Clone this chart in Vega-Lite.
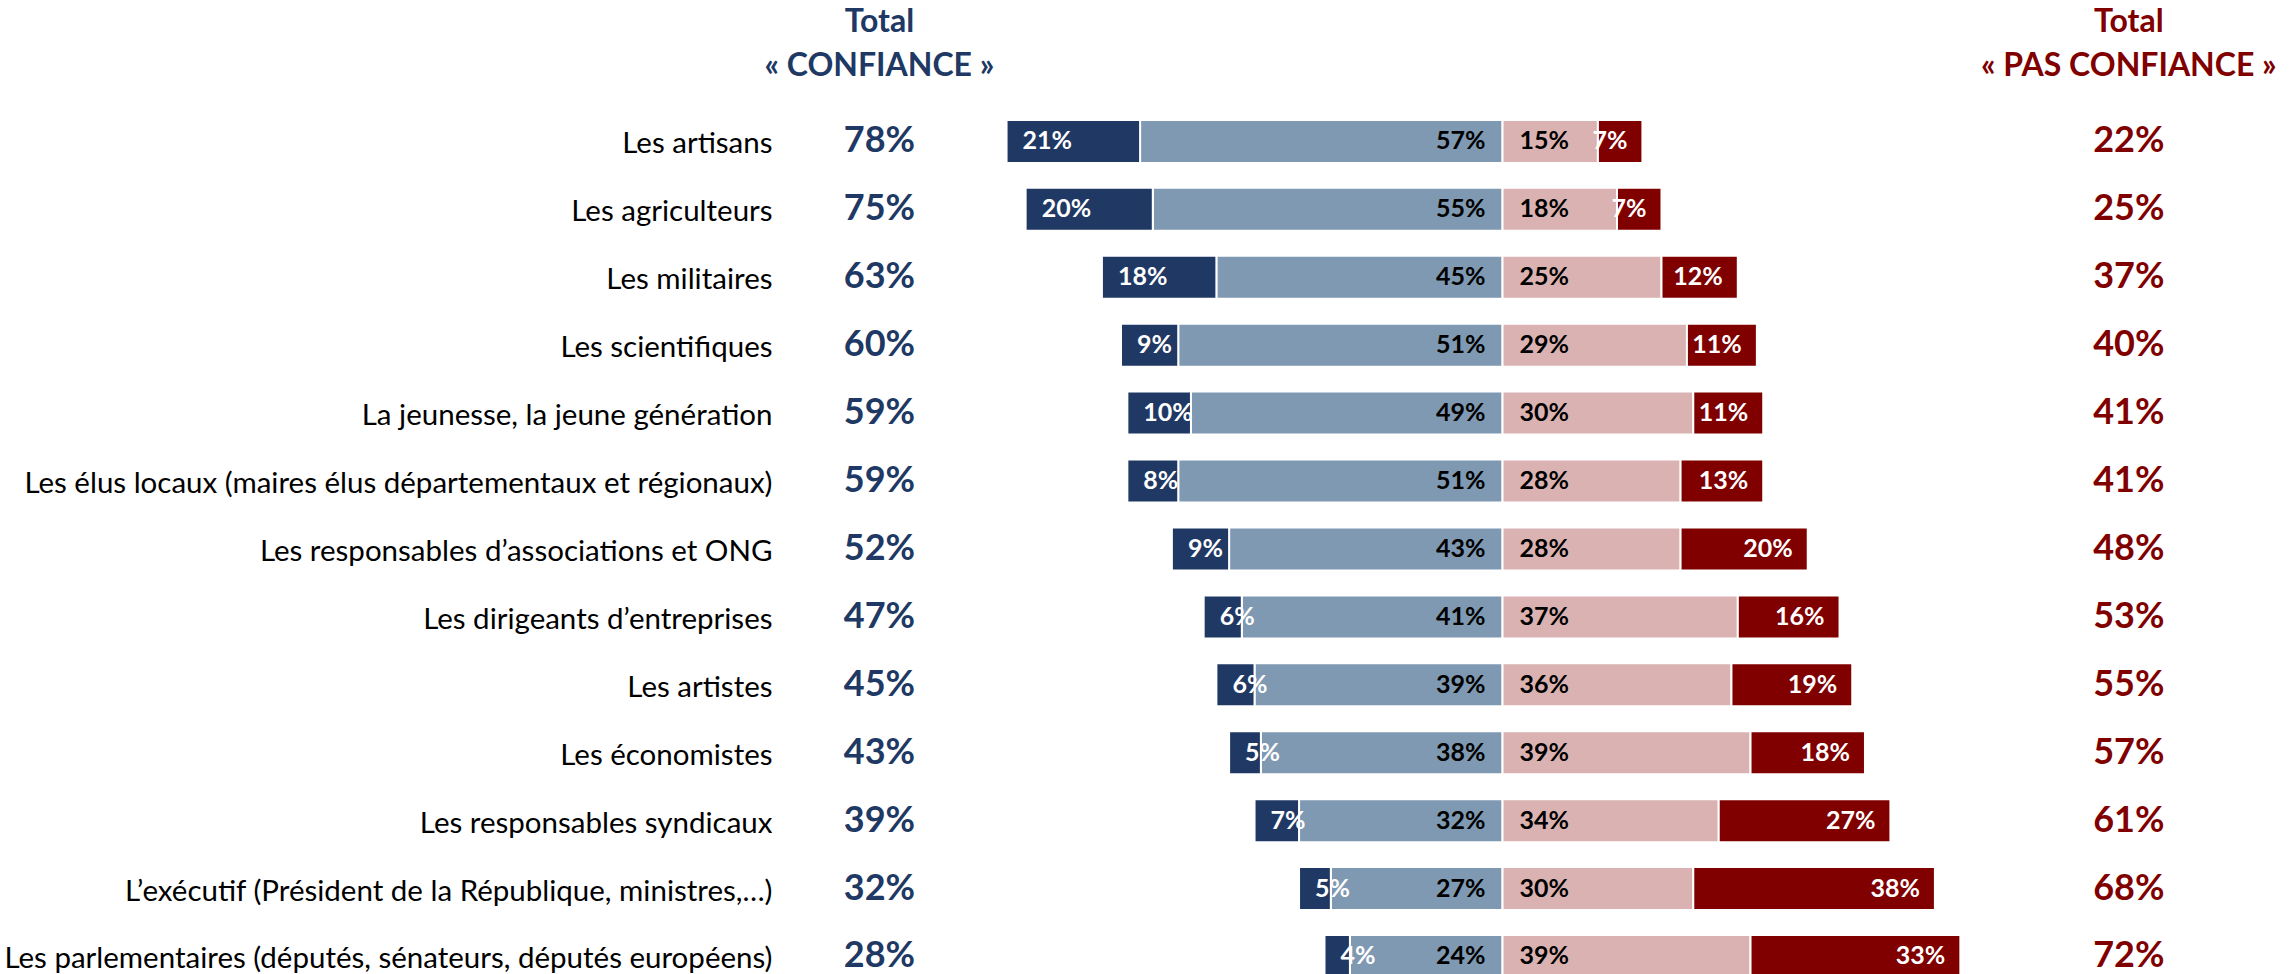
{
  "$schema": "https://vega.github.io/schema/vega-lite/v6.json",
  "width": 1507,
  "height": 1030,
  "autosize": {"type": "none"},
  "padding": {"left": 784, "top": 0, "right": 0, "bottom": -56},
  "background": "white",
  "config": {"view": {"stroke": null}, "font": "Lato"},
  "datasets": {
    "rows": [
      {"item": "Les artisans", "tout": 0.21, "plutot": 0.57, "plutotpas": 0.15, "pasdutout": 0.07, "totalC": 0.78, "totalP": 0.22},
      {"item": "Les agriculteurs", "tout": 0.20, "plutot": 0.55, "plutotpas": 0.18, "pasdutout": 0.07, "totalC": 0.75, "totalP": 0.25},
      {"item": "Les militaires", "tout": 0.18, "plutot": 0.45, "plutotpas": 0.25, "pasdutout": 0.12, "totalC": 0.63, "totalP": 0.37},
      {"item": "Les scientifiques", "tout": 0.09, "plutot": 0.51, "plutotpas": 0.29, "pasdutout": 0.11, "totalC": 0.60, "totalP": 0.40},
      {"item": "La jeunesse, la jeune génération", "tout": 0.10, "plutot": 0.49, "plutotpas": 0.30, "pasdutout": 0.11, "totalC": 0.59, "totalP": 0.41},
      {"item": "Les élus locaux (maires élus départementaux et régionaux)", "tout": 0.08, "plutot": 0.51, "plutotpas": 0.28, "pasdutout": 0.13, "totalC": 0.59, "totalP": 0.41},
      {"item": "Les responsables d’associations et ONG", "tout": 0.09, "plutot": 0.43, "plutotpas": 0.28, "pasdutout": 0.20, "totalC": 0.52, "totalP": 0.48},
      {"item": "Les dirigeants d’entreprises", "tout": 0.06, "plutot": 0.41, "plutotpas": 0.37, "pasdutout": 0.16, "totalC": 0.47, "totalP": 0.53},
      {"item": "Les artistes", "tout": 0.06, "plutot": 0.39, "plutotpas": 0.36, "pasdutout": 0.19, "totalC": 0.45, "totalP": 0.55},
      {"item": "Les économistes", "tout": 0.05, "plutot": 0.38, "plutotpas": 0.39, "pasdutout": 0.18, "totalC": 0.43, "totalP": 0.57},
      {"item": "Les responsables syndicaux", "tout": 0.07, "plutot": 0.32, "plutotpas": 0.34, "pasdutout": 0.27, "totalC": 0.39, "totalP": 0.61},
      {"item": "L’exécutif (Président de la République, ministres,…)", "tout": 0.05, "plutot": 0.27, "plutotpas": 0.30, "pasdutout": 0.38, "totalC": 0.32, "totalP": 0.68},
      {"item": "Les parlementaires (députés, sénateurs, députés européens)", "tout": 0.04, "plutot": 0.24, "plutotpas": 0.39, "pasdutout": 0.33, "totalC": 0.28, "totalP": 0.72}
    ]
  },
  "data": {"name": "rows"},
  "encoding": {
    "y": {
      "field": "item",
      "type": "nominal",
      "title": null,
      "scale": {
        "domain": ["hdr", "Les artisans", "Les agriculteurs", "Les militaires", "Les scientifiques", "La jeunesse, la jeune génération", "Les élus locaux (maires élus départementaux et régionaux)", "Les responsables d’associations et ONG", "Les dirigeants d’entreprises", "Les artistes", "Les économistes", "Les responsables syndicaux", "L’exécutif (Président de la République, ministres,…)", "Les parlementaires (députés, sénateurs, députés européens)"],
        "paddingInner": 0.367,
        "paddingOuter": 0.766
      },
      "axis": {
        "ticks": false,
        "domain": false,
        "grid": false,
        "labelPadding": 12,
        "labelOffset": 3,
        "labelLimit": 2000,
        "labelFont": "Lato",
        "labelFontSize": 29.5,
        "labelColor": "#000000",
        "labelExpr": "datum.value == 'hdr' ? '' : datum.value"
      }
    }
  },
  "layer": [
    {
      "layer": [
        {
          "transform": [{"fold": ["plutot", "tout"], "as": ["cat", "v"]}],
          "mark": {"type": "bar", "stroke": "white", "strokeWidth": 2},
          "encoding": {
            "x": {"field": "v", "type": "quantitative", "stack": "zero", "axis": null,
                  "scale": {"domain": [-1.24, 1.13], "reverse": true, "nice": false, "zero": false}},
            "color": {"field": "cat", "type": "nominal", "legend": null,
                      "scale": {"domain": ["tout", "plutot", "plutotpas", "pasdutout"], "range": ["#203864", "#7F99B2", "#DAB2B2", "#800000"]}},
            "order": {"field": "cat", "sort": "ascending"}
          }
        },
        {
          "mark": {"type": "text", "align": "left", "dx": 16, "font": "Lato", "fontWeight": "bold", "fontSize": 25, "color": "white"},
          "encoding": {
            "x": {"field": "totalC", "type": "quantitative", "axis": null,
                  "scale": {"domain": [-1.24, 1.13], "reverse": true, "nice": false, "zero": false}},
            "text": {"field": "tout", "type": "quantitative", "format": ".0%"}
          }
        },
        {
          "mark": {"type": "text", "align": "right", "dx": -17, "font": "Lato", "fontWeight": "bold", "fontSize": 25, "color": "black"},
          "encoding": {
            "x": {"datum": 0, "type": "quantitative", "axis": null,
                  "scale": {"domain": [-1.24, 1.13], "reverse": true, "nice": false, "zero": false}},
            "text": {"field": "plutot", "type": "quantitative", "format": ".0%"}
          }
        },
        {
          "mark": {"type": "text", "align": "center", "font": "Lato", "fontWeight": "bold", "fontSize": 36, "color": "#203864"},
          "encoding": {
            "x": {"datum": 0.98, "type": "quantitative", "axis": null,
                  "scale": {"domain": [-1.24, 1.13], "reverse": true, "nice": false, "zero": false}},
            "text": {"field": "totalC", "type": "quantitative", "format": ".0%"}
          }
        },
        {
          "data": {"values": [{"item": "hdr"}]},
          "mark": {"type": "text", "align": "center", "baseline": "middle", "dy": -52, "lineHeight": 44, "font": "Lato", "fontWeight": "bold", "fontSize": 32, "color": "#203864", "text": ["Total", "« CONFIANCE »"]},
          "encoding": {
            "x": {"datum": 0.98, "type": "quantitative", "axis": null,
                  "scale": {"domain": [-1.24, 1.13], "reverse": true, "nice": false, "zero": false}}
          }
        }
      ]
    },
    {
      "layer": [
        {
          "transform": [{"fold": ["plutotpas", "pasdutout"], "as": ["cat", "v"]}],
          "mark": {"type": "bar", "stroke": "white", "strokeWidth": 2},
          "encoding": {
            "x": {"field": "v", "type": "quantitative", "stack": "zero", "axis": null,
                  "scale": {"domain": [-1.13, 1.24], "nice": false, "zero": false}},
            "color": {"field": "cat", "type": "nominal", "legend": null,
                      "scale": {"domain": ["tout", "plutot", "plutotpas", "pasdutout"], "range": ["#203864", "#7F99B2", "#DAB2B2", "#800000"]}},
            "order": {"field": "cat", "sort": "descending"}
          }
        },
        {
          "mark": {"type": "text", "align": "left", "dx": 17, "font": "Lato", "fontWeight": "bold", "fontSize": 25, "color": "black"},
          "encoding": {
            "x": {"datum": 0, "type": "quantitative", "axis": null,
                  "scale": {"domain": [-1.13, 1.24], "nice": false, "zero": false}},
            "text": {"field": "plutotpas", "type": "quantitative", "format": ".0%"}
          }
        },
        {
          "mark": {"type": "text", "align": "right", "dx": -15, "font": "Lato", "fontWeight": "bold", "fontSize": 25, "color": "white"},
          "encoding": {
            "x": {"field": "totalP", "type": "quantitative", "axis": null,
                  "scale": {"domain": [-1.13, 1.24], "nice": false, "zero": false}},
            "text": {"field": "pasdutout", "type": "quantitative", "format": ".0%"}
          }
        },
        {
          "mark": {"type": "text", "align": "center", "font": "Lato", "fontWeight": "bold", "fontSize": 36, "color": "#800000"},
          "encoding": {
            "x": {"datum": 0.985, "type": "quantitative", "axis": null,
                  "scale": {"domain": [-1.13, 1.24], "nice": false, "zero": false}},
            "text": {"field": "totalP", "type": "quantitative", "format": ".0%"}
          }
        },
        {
          "data": {"values": [{"item": "hdr"}]},
          "mark": {"type": "text", "align": "center", "baseline": "middle", "dy": -52, "lineHeight": 44, "font": "Lato", "fontWeight": "bold", "fontSize": 32, "color": "#800000", "text": ["Total", "« PAS CONFIANCE »"]},
          "encoding": {
            "x": {"datum": 0.985, "type": "quantitative", "axis": null,
                  "scale": {"domain": [-1.13, 1.24], "nice": false, "zero": false}}
          }
        }
      ]
    }
  ],
  "resolve": {"scale": {"x": "independent"}}
}
